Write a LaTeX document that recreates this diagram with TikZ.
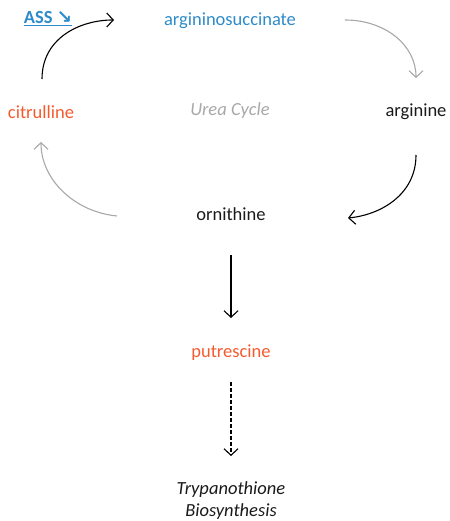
\documentclass[tikz,border=0pt]{standalone}
\usepackage{fontspec}
\setmainfont{Carlito}
\newfontfamily\symfont{DejaVu Sans}
\usetikzlibrary{arrows.meta}
\definecolor{cblue}{HTML}{2E8BC9}
\definecolor{corange}{HTML}{F55A2F}
\definecolor{cgray}{HTML}{A8A8A8}
\definecolor{ctext}{HTML}{1A1A1A}
\begin{document}
\begin{tikzpicture}[x=1pt,y=-1pt,
  lbl/.style={inner sep=0pt, font=\fontsize{18.5}{22}\selectfont, text=ctext},
  arr/.style={line width=1.1pt, -{Straight Barb[length=6.5pt,width=14pt,line width=1.1pt]}},
  garr/.style={arr, draw=cgray}]
\useasboundingbox (0,0) rectangle (449,521);
\node[lbl, text=cblue, font=\fontsize{18.5}{22}\selectfont\bfseries] (ass) at (48,19) {\underline{ASS {\symfont ↘}}};
\node[lbl, text=cblue] (as) at (230,21) {argininosuccinate};
\node[lbl, text=corange] (cit) at (41,112) {citrulline};
\node[lbl, text=cgray, font=\fontsize{18.5}{22}\selectfont\itshape] (urea) at (230,111) {Urea Cycle};
\node[lbl] (arg) at (416,112) {arginine};
\node[lbl] (orn) at (231,214) {ornithine};
\node[lbl, text=corange] (put) at (231,353) {putrescine};
\node[lbl, font=\fontsize{18.5}{22}\selectfont\itshape, align=center] (tryp) at (231,501) {Trypanothione\\Biosynthesis};
\coordinate (c1) at (42,79);
\coordinate (c2) at (114,20);
\coordinate (g1) at (345,20);
\coordinate (g2) at (416,78);
\coordinate (b1) at (416,155);
\coordinate (b2) at (348,218);
\coordinate (o1) at (117,216);
\coordinate (o2) at (41,142);
\draw[arr] (c1) .. controls (42,38) and (80,20) .. (c2);
\draw[garr] (g1) .. controls (385,20) and (416,45) .. (g2);
\draw[arr] (b1) .. controls (416,195) and (380,215) .. (b2);
\draw[garr] (o1) .. controls (75,212) and (41,180) .. (o2);
\draw[arr] (orn.south |- 0,255) -- (231,318);
\draw[arr, dash pattern=on 4pt off 2pt] (put.south |- 0,382) -- (231,456);
\end{tikzpicture}
\end{document}
